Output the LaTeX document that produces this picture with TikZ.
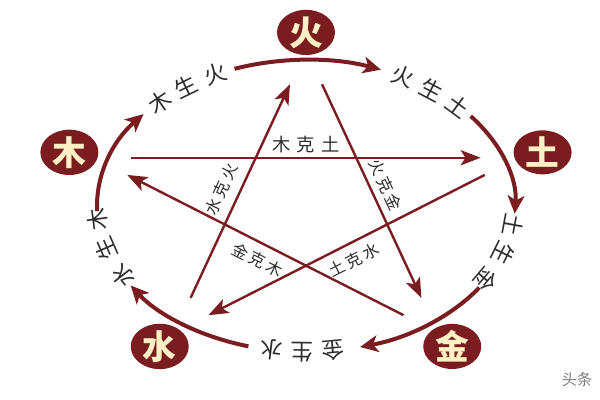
\documentclass[tikz,border=0pt]{standalone}
\usepackage{fontspec}
\setmainfont{Noto Sans CJK SC}
\usepackage{tikz}
\usetikzlibrary{arrows.meta,shapes.geometric}
\usepackage{xcolor}
\definecolor{wxred}{RGB}{122,28,32}
\definecolor{wxcream}{RGB}{252,240,196}
\definecolor{wxgray}{RGB}{45,45,45}
\tikzstyle{ring} = [line width=1mm, color=wxred, -{Stealth[length=4.5mm,width=4.2mm,inset=1.2mm]}]
\tikzstyle{kearrow} = [line width=0.6mm, color=wxred, -{Stealth[length=5mm,width=3.8mm,inset=1.2mm]}, shorten <=9.5mm, shorten >=9.5mm]
\tikzstyle{elembox} = [ellipse, minimum width=14.5mm, minimum height=11mm, inner sep=0pt, fill=wxred, text=wxcream, font=\fontsize{24}{24}\selectfont\bfseries]
\tikzstyle{shengtxt} = [inner sep=0pt, text=wxgray, font=\fontsize{16}{16}\selectfont]
\tikzstyle{ketxt} = [inner sep=0pt, text=wxgray, font=\fontsize{11.5}{11.5}\selectfont]
\newcommand{\spreadtxt}[4]{#1\hspace{#4}#2\hspace{#4}#3}

\begin{document}
\begin{tikzpicture}
\useasboundingbox (-7.65,-4.85) rectangle (7.35,5.15);
\def\rx{5.225}
\def\ry{3.65}
% elements and the sheng ring
\foreach \ea/\n/\e/\nx in {90/huo/火/土, 18/tu/土/金, -54/jin/金/水, -126/shui/水/木, 162/mu/木/火}{
  \node[elembox] (\n) at (\ea:6.22 and 4.34) {\e};
  \coordinate (p-\n) at (\ea:5.59 and 3.905);
  \pgfmathsetmacro{\sa}{\ea+20}
  \coordinate (r-\n) at (\sa:{\rx} and {\ry});
  \draw[ring] (r-\n) arc[start angle=\ea+20, end angle=\ea-21, x radius=\rx, y radius=\ry];
  \pgfmathsetmacro{\mid}{\ea-37}
  \pgfmathsetmacro{\stp}{0.78/sqrt((\rx*sin(\mid))^2+(\ry*cos(\mid))^2)*180/pi}
  \foreach \ch [count=\idx] in {\e,生,\nx}{
    \pgfmathsetmacro{\ang}{\mid+(2-\idx)*\stp}
    \pgfmathsetmacro{\rot}{atan2(-\ry*cos(\ang),\rx*sin(\ang))}
    \node[shengtxt, rotate=\rot] (s-\n-\idx) at (\ang:{\rx} and {\ry}) {\ch};
  }
}
% ke star
\foreach \p/\q/\la/\lb/\side/\off/\ps/\gap in {tu/shui/土/水/below/2.1mm/0.5/0.7mm, shui/huo/水/火/above/2.3mm/0.48/0.7mm, huo/jin/火/金/above/1.5mm/0.5/0.7mm, jin/mu/金/木/below/2mm/0.5/0.7mm}{
  \draw[kearrow] (p-\p) -- (p-\q) node[ketxt, pos=\ps, sloped, \side=\off] (k-\p) {\spreadtxt{\la}{克}{\lb}{\gap}};
}
\draw[kearrow] (p-mu) -- (p-tu) node[ketxt, font=\fontsize{13}{13}\selectfont, midway, above=0.8mm] (k-mu) {\spreadtxt{木}{克}{土}{1.5mm}};
\node[text=gray, font=\fontsize{11}{11}\selectfont] (mark) at (6.775,-4.35) {头条};
\end{tikzpicture}
\end{document}
